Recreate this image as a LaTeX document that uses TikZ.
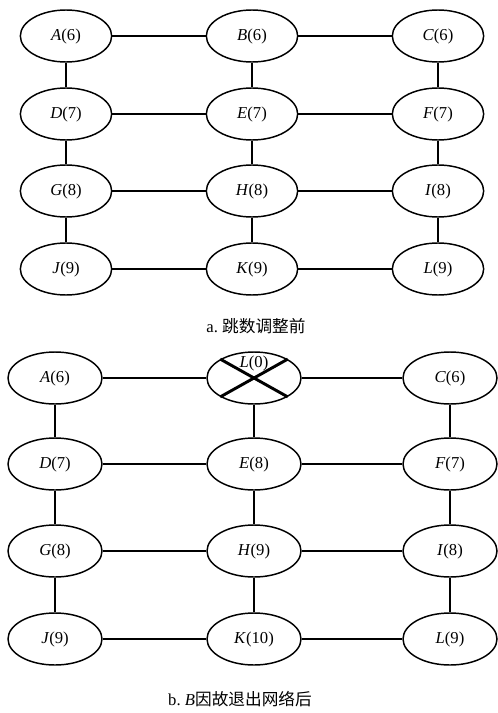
\documentclass[tikz,border=0pt]{standalone}
\usepackage{fontspec}
\setmainfont{Liberation Serif}
\newfontfamily\cjk{Noto Sans CJK SC}
\usetikzlibrary{shapes.geometric}

\begin{document}
\begin{tikzpicture}[x=0.75pt, y=-0.75pt,
    hopnode/.style={ellipse, draw, line width=1.1pt, minimum width=68.5pt,
                    minimum height=39pt, inner sep=0pt,
                    font=\fontsize{12.5}{14}\selectfont},
    hopnodeb/.style={hopnode, minimum width=70.5pt},
    link/.style={line width=1.1pt},
    biglink/.style={line width=2.2pt},
    capt/.style={font=\fontsize{12.5}{15}\selectfont}
  ]
    \useasboundingbox (0,0) rectangle (497,713);

    % a. before the hop count update
    \node[hopnode] (aA) at ( 66, 36) {\textit{A}(6)};
    \node[hopnode] (aB) at (252, 36) {\textit{B}(6)};
    \node[hopnode] (aC) at (438, 36) {\textit{C}(6)};
    \node[hopnode] (aD) at ( 66,114) {\textit{D}(7)};
    \node[hopnode] (aE) at (252,114) {\textit{E}(7)};
    \node[hopnode] (aF) at (438,114) {\textit{F}(7)};
    \node[hopnode] (aG) at ( 66,191) {\textit{G}(8)};
    \node[hopnode] (aH) at (252,191) {\textit{H}(8)};
    \node[hopnode] (aI) at (438,191) {\textit{I}(8)};
    \node[hopnode] (aJ) at ( 66,269) {\textit{J}(9)};
    \node[hopnode] (aK) at (252,269) {\textit{K}(9)};
    \node[hopnode] (aL) at (438,269) {\textit{L}(9)};

    \draw[link] (aA) -- (aB) -- (aC);
    \draw[link] (aD) -- (aE) -- (aF);
    \draw[link] (aG) -- (aH) -- (aI);
    \draw[link] (aJ) -- (aK) -- (aL);
    \draw[link] (aA) -- (aD) -- (aG) -- (aJ);
    \draw[link] (aB) -- (aE) -- (aH) -- (aK);
    \draw[link] (aC) -- (aF) -- (aI) -- (aL);

    \node[capt] (capa) at (256,326) {a.\ {\cjk 跳数调整前}};

    % b. after B leaves the network
    \node[hopnodeb] (bA) at ( 55,378) {\textit{A}(6)};
    \node[hopnodeb, label={[font=\fontsize{12.5}{14}\selectfont, yshift=11pt]center:\textit{L}(0)}] (bB) at (254,378) {};
    \node[hopnodeb] (bC) at (450,378) {\textit{C}(6)};
    \node[hopnodeb] (bD) at ( 55,464) {\textit{D}(7)};
    \node[hopnodeb] (bE) at (254,464) {\textit{E}(8)};
    \node[hopnodeb] (bF) at (450,464) {\textit{F}(7)};
    \node[hopnodeb] (bG) at ( 55,551) {\textit{G}(8)};
    \node[hopnodeb] (bH) at (254,551) {\textit{H}(9)};
    \node[hopnodeb] (bI) at (450,551) {\textit{I}(8)};
    \node[hopnodeb] (bJ) at ( 55,639) {\textit{J}(9)};
    \node[hopnodeb] (bK) at (254,639) {\textit{K}(10)};
    \node[hopnodeb] (bL) at (450,639) {\textit{L}(9)};

    % failed node crossed out
    \draw[biglink] (bB.north west) -- (bB.south east);
    \draw[biglink] (bB.north east) -- (bB.south west);

    \draw[link] (bA) -- (bB) -- (bC);
    \draw[link] (bD) -- (bE) -- (bF);
    \draw[link] (bG) -- (bH) -- (bI);
    \draw[link] (bJ) -- (bK) -- (bL);
    \draw[link] (bA) -- (bD) -- (bG) -- (bJ);
    \draw[biglink] (bB) -- (bE) -- (bH) -- (bK);
    \draw[link] (bC) -- (bF) -- (bI) -- (bL);

    \node[capt] (capb) at (240,699) {b.\ \textit{B}{\cjk 因故退出网络后}};
\end{tikzpicture}
\end{document}
